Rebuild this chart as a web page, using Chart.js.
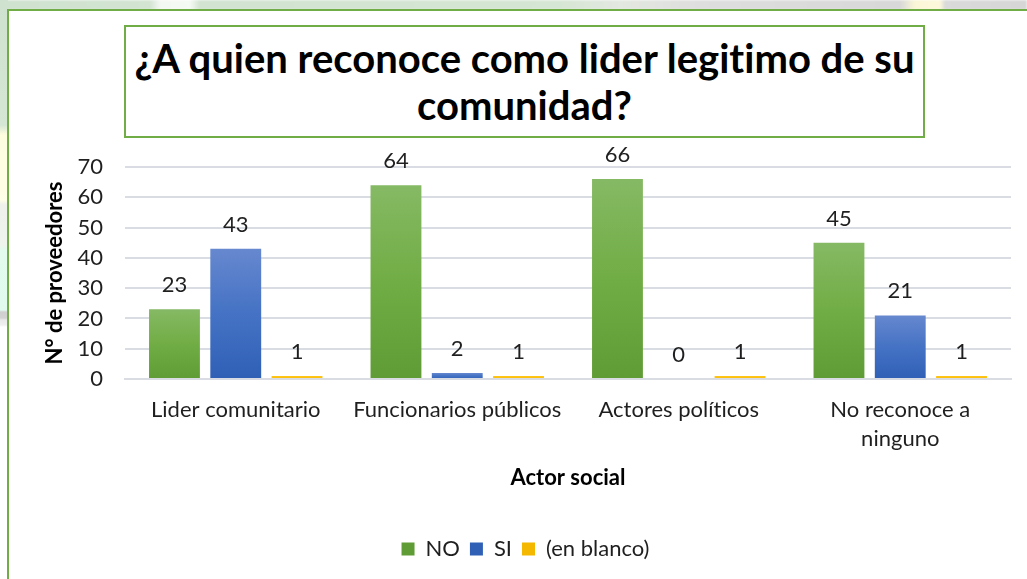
<!DOCTYPE html>
<html lang="es">
<head>
<meta charset="utf-8">
<title>¿A quien reconoce como lider legitimo de su comunidad?</title>
<script src="https://cdn.jsdelivr.net/npm/chart.js@4/dist/chart.umd.min.js"></script>
<style>
  html, body { margin: 0; padding: 0; }
  body { width: 1027px; height: 579px; position: relative; overflow: hidden; background: #ffffff; font-family: Lato, "Open Sans", sans-serif; font-variant-ligatures: none; }
  /* decorative backdrop strips around the panel */
  #stripTop {
    position: absolute; left: 0; top: 0; width: 1027px; height: 10px;
    background: linear-gradient(90deg, #cfe1cf 0px, #d3e4d2 150px, #f4f8f2 160px, #f6faf4 190px, #d2e3d1 200px, #d6e6d4 560px, #e3e8e0 620px, #dedede 700px, #d8d8d8 900px, #fbf6d6 915px, #fdf9dc 940px, #dadada 945px, #d6d6d6 1027px);
    filter: blur(1px);
  }
  #stripLeft {
    position: absolute; left: 0; top: 0; width: 8px; height: 579px;
    background: linear-gradient(180deg, #cfe1cf 0px, #d5e6d4 125px, #fffde0 135px, #fffee6 200px, #eef1ec 205px, #eff4ee 245px, #e2fbee 250px, #e1faef 310px, #cfcfcf 312px, #d2d2d2 318px, #eaeaea 320px, #f0f0f0 325px, #ffffff 327px);
  }
  #panel {
    position: absolute; left: 7px; top: 9px; width: 1040px; height: 590px;
    background: #ffffff; border-left: 2px solid #70ad47; border-top: 2px solid #70ad47;
    box-sizing: border-box;
  }
  #chartTitle {
    position: absolute; left: 124px; top: 25px; width: 801px; height: 113px;
    box-sizing: border-box; border: 2px solid #70ad47; background: #ffffff;
    display: flex; align-items: center; justify-content: center; text-align: center;
    font-family: Lato, sans-serif; font-weight: 700; font-size: 40px; line-height: 47px; color: #000000;
    font-variant-ligatures: none; white-space: nowrap;
    z-index: 3;
  }
  #chartWrap { position: absolute; left: 0; top: 0; width: 1027px; height: 579px; z-index: 2; }
  canvas { display: block; }
</style>
</head>
<body>
<div id="stripTop"></div>
<div id="stripLeft"></div>
<div id="panel"></div>
<div id="chartTitle">¿A quien reconoce como lider legitimo de su<br>comunidad?</div>
<div id="chartWrap"><canvas id="chart" width="1027" height="579"></canvas></div>
<script>
// Categories (social actors) and answer counts per series
const categories = ['Lider comunitario', 'Funcionarios públicos', 'Actores políticos', ['No reconoce a', 'ninguno']];
const seriesNames = ['NO', 'SI', '(en blanco)'];
const valuesNo = [23, 64, 66, 45];
const valuesSi = [43, 2, 0, 21];
const valuesBlank = [1, 1, 1, 1];
const yTicks = [0, 10, 20, 30, 40, 50, 60, 70];

const FONT = 'Lato, "Open Sans", sans-serif';

// vertical fill per bar: lighter top, deeper bottom
function barFill(top, mid, bottom, flat) {
  return function (ctx) {
    const chart = ctx.chart;
    if (ctx.type !== 'data' || !chart.scales || !chart.scales.y || !ctx.parsed) return flat;
    const y = chart.scales.y;
    const yTop = y.getPixelForValue(ctx.parsed.y);
    const yBase = y.getPixelForValue(0);
    if (!isFinite(yTop) || !isFinite(yBase) || Math.abs(yBase - yTop) < 1) return flat;
    const g = chart.ctx.createLinearGradient(0, yTop, 0, yBase);
    g.addColorStop(0, top);
    g.addColorStop(0.5, mid);
    g.addColorStop(1, bottom);
    return g;
  };
}

// value labels above each bar
const valueLabels = {
  id: 'valueLabels',
  afterDatasetsDraw(chart) {
    const ctx = chart.ctx;
    ctx.save();
    ctx.font = '22px ' + FONT;
    ctx.fillStyle = '#1f1f1f';
    ctx.textAlign = 'center';
    ctx.textBaseline = 'middle';
    chart.data.datasets.forEach((ds, di) => {
      const meta = chart.getDatasetMeta(di);
      meta.data.forEach((bar, i) => {
        ctx.fillText(String(ds.data[i]), bar.x, bar.y - 24);
      });
    });
    ctx.restore();
  }
};

new Chart(document.getElementById('chart'), {
  type: 'bar',
  data: {
    labels: categories,
    datasets: [
      { label: seriesNames[0], data: valuesNo, backgroundColor: barFill('#86b964', '#71ad45', '#5f9c35', '#70ad47') },
      { label: seriesNames[1], data: valuesSi, backgroundColor: barFill('#6688cf', '#4572c4', '#2f60b6', '#4472c4') },
      { label: seriesNames[2], data: valuesBlank, backgroundColor: barFill('#ffc61a', '#fcc010', '#f4b800', '#ffc000') }
    ]
  },
  plugins: [valueLabels],
  options: {
    responsive: false,
    animation: false,
    datasets: { bar: { categoryPercentage: 0.83, barPercentage: 0.83, borderWidth: 0 } },
    layout: { padding: { left: 40, right: 16, top: 167, bottom: 9 } },
    plugins: {
      title: { display: false },
      tooltip: { enabled: false },
      legend: {
        position: 'bottom',
        labels: {
          font: { family: FONT, size: 22 },
          color: '#1f1f1f',
          boxWidth: 13, boxHeight: 13, padding: 10
        }
      }
    },
    scales: {
      x: {
        afterFit(scale) { scale.height = 149; },
        grid: { display: false, drawTicks: false },
        border: { display: true, color: '#d9dde3', width: 2 },
        ticks: { font: { family: FONT, size: 22, lineHeight: '29px' }, color: '#1f1f1f', padding: 16, maxRotation: 0, autoSkip: false },
        title: { display: true, text: 'Actor social', font: { family: FONT, size: 22, weight: 'bold' }, color: '#000000', padding: { top: 0, bottom: 37 } }
      },
      y: {
        min: 0, max: 70,
        afterFit(scale) { scale.width = 85; },
        afterBuildTicks(scale) { scale.ticks = yTicks.map(v => ({ value: v })); },
        grid: { color: '#d9dde3', lineWidth: 2, drawTicks: false },
        border: { display: false },
        ticks: { font: { family: FONT, size: 22 }, color: '#1f1f1f', padding: 22 },
        title: { display: true, text: 'N° de proveedores', font: { family: FONT, size: 22, weight: 'bold' }, color: '#000000', padding: { top: 2, bottom: 0 } }
      }
    }
  }
});
</script>
</body>
</html>
